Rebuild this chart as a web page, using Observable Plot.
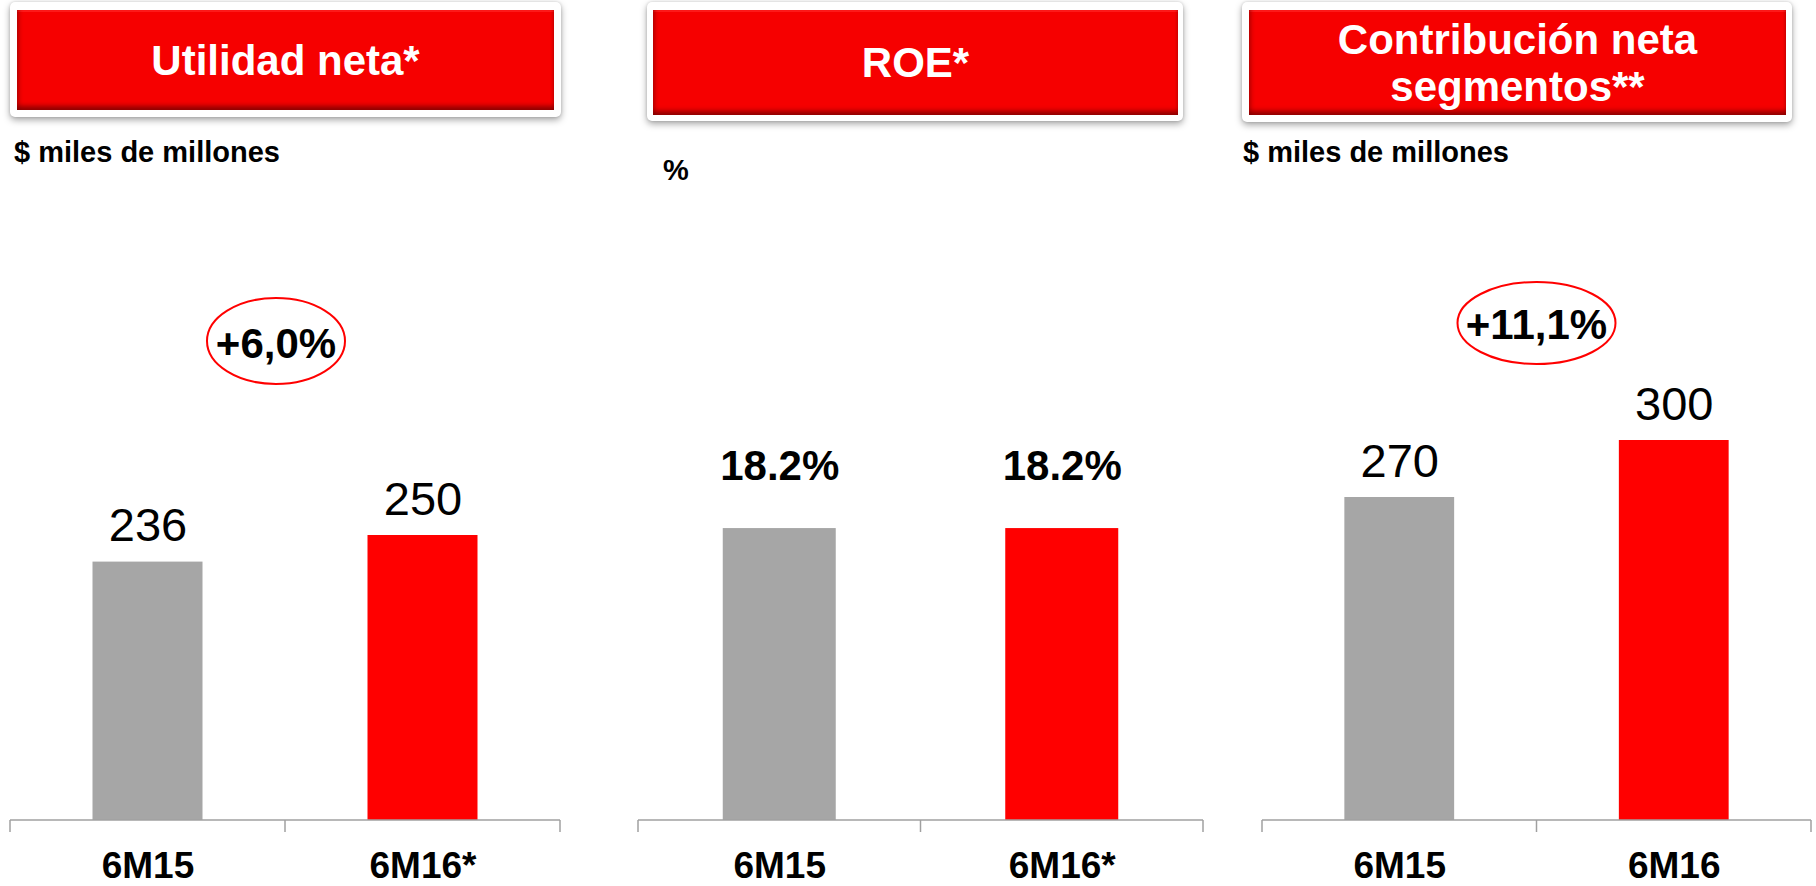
<!DOCTYPE html>
<html>
<head>
<meta charset="utf-8">
<script src="https://cdn.jsdelivr.net/npm/d3@7"></script>
<script src="https://cdn.jsdelivr.net/npm/@observablehq/plot@0.6"></script>
<style>
html, body { margin: 0; padding: 0; background: #fff; }
body { width: 1816px; height: 886px; position: relative; overflow: hidden;
  font-family: "Liberation Sans", Arial, Helvetica, sans-serif; }
.frame { position: absolute; background: #fff; border-radius: 5px;
  box-shadow: 0 3px 7px rgba(0,0,0,0.35), 0 0 3px rgba(0,0,0,0.15); }
.head { position: absolute; background: #f60000; display: flex; align-items: center;
  justify-content: center; text-align: center; color: #fff; font-weight: bold;
  font-size: 42px; line-height: 47px; white-space: pre;
  box-shadow: inset 0 -7px 5px -3px rgba(110,0,0,0.75), inset 5px 0 4px -3px rgba(140,0,0,0.6),
              inset -3px 0 3px -2px rgba(140,0,0,0.4), inset 0 2px 0 0 #ff1a1a; }
.unit { position: absolute; font-weight: bold; font-size: 29px; line-height: 29px; color: #000; white-space: nowrap; }
.chart { position: absolute; top: 180px; }
.chart svg { color: #000; }
.chart [aria-label^="x-axis"] text { font-size: 37px; font-weight: bold; fill: #000; }
</style>
</head>
<body>
<script>
// ---- data ----
const panelTitles = ["Utilidad neta*", "ROE*", "Contribución neta\nsegmentos**"];
const panelUnits = ["$ miles de millones", "%", "$ miles de millones"];
const utilidadCats = ["6M15", "6M16*"];
const utilidadValues = [236, 250];
const roeCats = ["6M15", "6M16*"];
const roeValues = [18.2, 18.2];
const contribCats = ["6M15", "6M16"];
const contribValues = [270, 300];
const growthLabels = ["+6,0%", null, "+11,1%"];
const barColors = ["#a6a6a6", "#ff0000"];

const panelCats = [utilidadCats, roeCats, contribCats];
const panelValues = [utilidadValues, roeValues, contribValues];

// ---- layout / style ----
const layout = [
  {frame: [10, 2, 551, 115], head: [17, 10, 537, 100], unit: [14, 137.5],
   svgLeft: 0, svgWidth: 600, mL: 10, mR: 40, yDomain: [100, 100 + 640 / 1.9],
   labelDy: -21, labelSize: 47, labelWeight: "normal", fmt: v => String(v),
   ell: {dx: -9, cy: 161, rx: 69, ry: 43, ty: 17}},
  {frame: [647, 2, 536, 119], head: [653, 10, 525, 105], unit: [663, 155.5],
   svgLeft: 620, svgWidth: 600, mL: 18, mR: 17, yDomain: [0, 640 / 16.04],
   labelDy: -49, labelSize: 42, labelWeight: "bold", fmt: v => v.toFixed(1) + "%",
   ell: null},
  {frame: [1242, 2, 550, 120], head: [1249, 10, 537, 105], unit: [1243, 137.5],
   svgLeft: 1240, svgWidth: 576, mL: 22, mR: 5, yDomain: [100, 100 + 640 / 1.9],
   labelDy: -21, labelSize: 47, labelWeight: "normal", fmt: v => String(v),
   ell: {dx: 0, cy: 143, rx: 79, ry: 41, ty: 16}}
];

function box(cls, [x, y, w, h]) {
  const d = document.createElement("div");
  d.className = cls;
  Object.assign(d.style, {left: x + "px", top: y + "px", width: w + "px", height: h + "px"});
  document.body.appendChild(d);
  return d;
}

function baseAxis(cats) {
  return (index, scales, values, dim) => {
    const x = scales.x;
    const y0 = dim.height - dim.marginBottom;
    const [r0, r1] = x.range();
    const bw = x.bandwidth();
    const mid = (x(cats[0]) + bw + x(cats[1])) / 2;
    const g = d3.create("svg:g").attr("stroke", "#a0a0a0").attr("stroke-width", 1.5).attr("fill", "none");
    g.append("line").attr("x1", r0).attr("x2", r1).attr("y1", y0).attr("y2", y0);
    for (const tx of [r0, mid, r1]) {
      g.append("line").attr("x1", tx).attr("x2", tx).attr("y1", y0).attr("y2", y0 + 12);
    }
    return g.node();
  };
}

function growthBadge(cats, label, e) {
  return (index, scales) => {
    const x = scales.x, bw = x.bandwidth();
    const cx = (x(cats[0]) + x(cats[1]) + bw) / 2 + e.dx;
    const g = d3.create("svg:g");
    g.append("ellipse").attr("cx", cx).attr("cy", e.cy).attr("rx", e.rx).attr("ry", e.ry)
      .attr("fill", "none").attr("stroke", "#ff0000").attr("stroke-width", 2);
    g.append("text").attr("x", cx).attr("y", e.cy + e.ty).attr("text-anchor", "middle")
      .attr("font-size", 42).attr("font-weight", "bold").attr("fill", "#000").text(label);
    return g.node();
  };
}

layout.forEach((L, p) => {
  box("frame", L.frame);
  box("head", L.head).textContent = panelTitles[p];
  const u = document.createElement("div");
  u.className = "unit";
  u.style.left = L.unit[0] + "px";
  u.style.top = L.unit[1] + "px";
  u.textContent = panelUnits[p];
  document.body.appendChild(u);

  const cats = panelCats[p];
  const rows = cats.map((c, i) => ({cat: c, value: panelValues[p][i]}));
  const marks = [
    Plot.barY(rows, {x: "cat", y: "value", fill: "cat"}),
    Plot.text(rows, {x: "cat", y: "value", text: d => L.fmt(d.value), lineAnchor: "bottom",
      dy: L.labelDy, fontSize: L.labelSize, fontWeight: L.labelWeight, fill: "#000"}),
    baseAxis(cats)
  ];
  if (growthLabels[p] && L.ell) marks.push(growthBadge(cats, growthLabels[p], L.ell));

  const svg = Plot.plot({
    width: L.svgWidth, height: 706,
    marginTop: 0, marginBottom: 66, marginLeft: L.mL, marginRight: L.mR,
    style: {fontFamily: '"Liberation Sans", Arial, Helvetica, sans-serif', background: "transparent", overflow: "visible"},
    x: {domain: cats, paddingInner: 0.6, paddingOuter: 0.3, round: false, tickSize: 0, tickPadding: 31, label: null},
    y: {domain: L.yDomain, clamp: true, axis: null},
    color: {domain: cats, range: barColors},
    marks
  });
  const wrap = document.createElement("div");
  wrap.className = "chart";
  wrap.style.left = L.svgLeft + "px";
  wrap.style.width = L.svgWidth + "px";
  wrap.appendChild(svg);
  document.body.appendChild(wrap);
});
</script>
</body>
</html>
